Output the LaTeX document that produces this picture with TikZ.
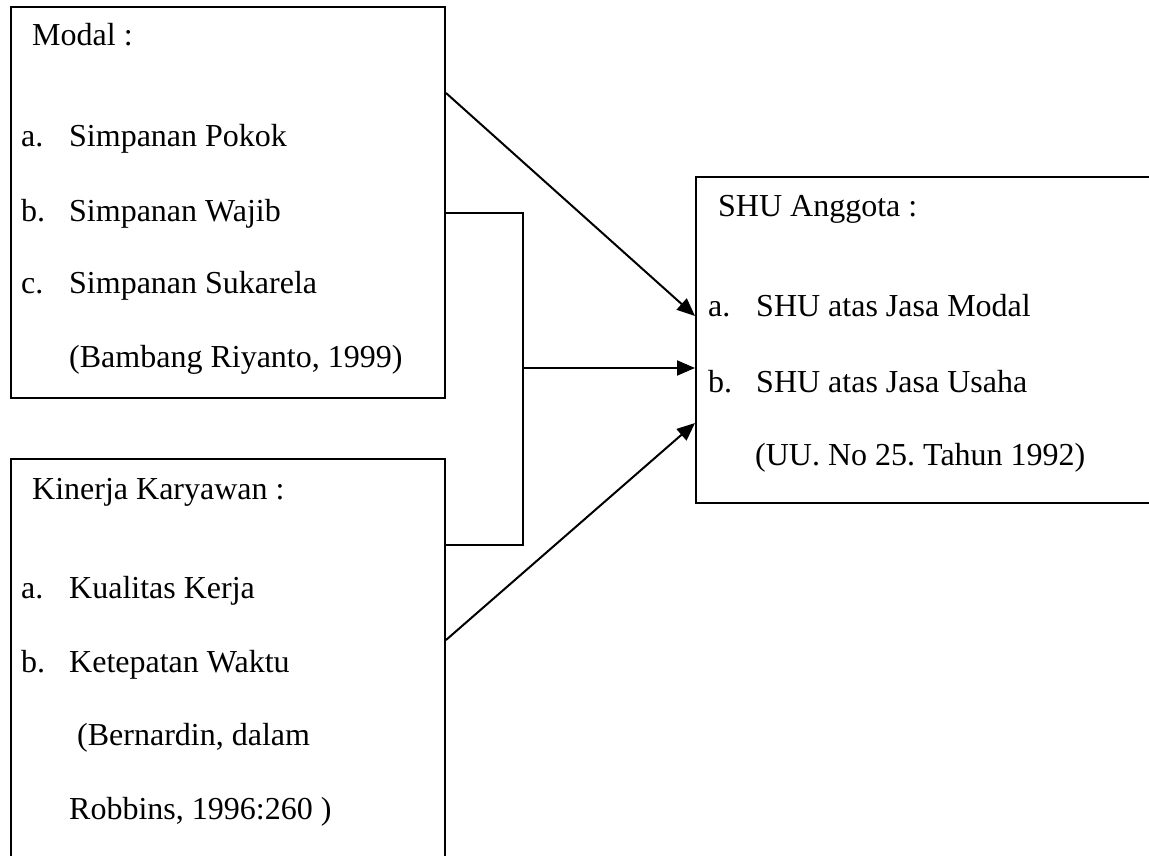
\documentclass[tikz,border=0pt]{standalone}
\usepackage{fontspec}
\setmainfont{Liberation Serif}
\usepackage{tikz}
\usetikzlibrary{arrows.meta}
\usetikzlibrary{positioning}
\usetikzlibrary{calc}
\frenchspacing

\tikzset{
  box/.style={draw=black, line width=2pt, rectangle, inner sep=0pt},
  txt/.style={anchor=base west, inner sep=0pt, font=\fontsize{32}{38}\selectfont},
  link/.style={draw=black, line width=2pt},
  arr/.style={link, -{Triangle[length=18pt, width=15pt]}}
}

\begin{document}
\begin{tikzpicture}[x=1pt, y=-1pt]

        \useasboundingbox (0,0) rectangle (1149,856);
        \clip (0,0) rectangle (1149,856);

        \pgfmathsetmacro{\lx}{21}
        \pgfmathsetmacro{\tx}{69}

        % boxes (kinerja and shu run past the page edge)
        \node[box, minimum width=434pt, minimum height=391pt] (modal) at (228,202.5) {};
        \node[box, minimum width=434pt, minimum height=411pt] (kinerja) at (228,664.5) {};
        \node[box, minimum width=469pt, minimum height=326pt] (shu) at (930.5,340) {};

        % modal
        \node[txt] (modalhead) at (32,46) {Modal :};
        \node[txt] (modalA) at (\lx,147) {a.};
        \node[txt] (modalAtext) at (\tx,147) {Simpanan Pokok};
        \node[txt] (modalB) at (\lx,221) {b.};
        \node[txt] (modalBtext) at (\tx,221) {Simpanan Wajib};
        \node[txt] (modalC) at (\lx,293) {c.};
        \node[txt] (modalCtext) at (\tx,293) {Simpanan Sukarela};
        \node[txt] (modalsrc) at (\tx,367) {(Bambang Riyanto, 1999)};

        % kinerja
        \node[txt] (kinerjahead) at (32,499) {Kinerja Karyawan :};
        \node[txt] (kinerjaA) at (\lx,598) {a.};
        \node[txt] (kinerjaAtext) at (\tx,598) {Kualitas Kerja};
        \node[txt] (kinerjaB) at (\lx,672) {b.};
        \node[txt] (kinerjaBtext) at (\tx,672) {Ketepatan Waktu};
        \node[txt] (kinerjasrcA) at (77,745) {(Bernardin, dalam};
        \node[txt] (kinerjasrcB) at (\tx,819) {Robbins, 1996:260 )};

        % shu
        \node[txt] (shuhead) at (718,216) {SHU Anggota :};
        \node[txt] (shuA) at (708,316) {a.};
        \node[txt] (shuAtext) at (756,316) {SHU atas Jasa Modal};
        \node[txt] (shuB) at (708,392) {b.};
        \node[txt] (shuBtext) at (756,392) {SHU atas Jasa Usaha};
        \node[txt] (shusrc) at (755,465) {(UU. No 25. Tahun 1992)};

        % connectors
        \coordinate (join) at (523,368);
        \draw[link] (modal.east |- 0,213) -| (join) |- (kinerja.east |- 0,545);

        \draw[arr] (modal.east |- 0,93) -- (shu.west |- 0,316);
        \draw[arr] (join) -- (shu.west |- 0,368);
        \draw[arr] (kinerja.east |- 0,640) -- (shu.west |- 0,423);

\end{tikzpicture}
\end{document}
